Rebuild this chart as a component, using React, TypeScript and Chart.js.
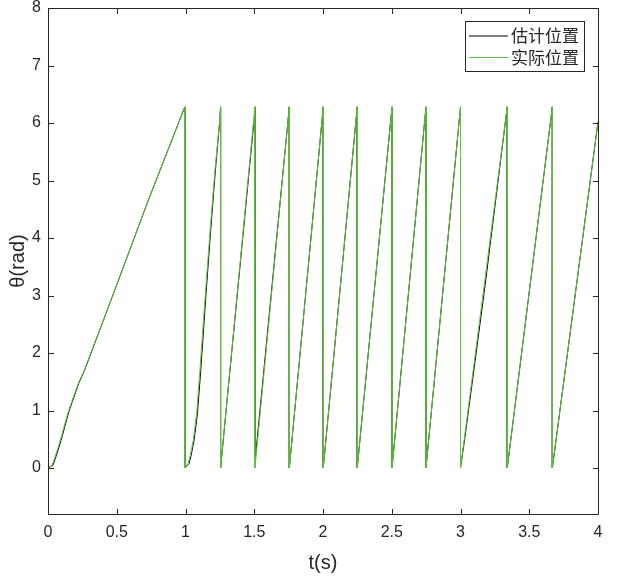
import React, { useEffect, useRef } from 'react';
import { Chart, registerables } from 'chart.js';

Chart.register(...registerables);

// Actual position (green)
const actualT = [
  0, 0.03, 0.051, 0.075, 0.1, 0.124, 0.148, 0.172, 0.196, 0.22, 0.264, 0.463, 0.73, 0.995,
  0.995, 1.02, 1.035, 1.057, 1.081, 1.105, 1.142, 1.178, 1.215, 1.246, 1.255,
  1.255, 1.505, 1.505, 1.755, 1.755, 2.002, 2.002, 2.249, 2.249, 2.502, 2.502, 2.749, 2.749, 3.0,
  3.0, 3.34, 3.34, 3.668, 3.668, 4.0,
];
const actualTheta = [
  0, 0.05, 0.19, 0.37, 0.57, 0.78, 0.98, 1.15, 1.31, 1.47, 1.7, 2.95, 4.66, 6.28,
  0, 0.08, 0.22, 0.49, 0.95, 1.7, 2.95, 4.1, 5.2, 5.97, 6.28,
  0, 6.28, 0, 6.28, 0, 6.28, 0, 6.28, 0, 6.28, 0, 6.28, 0, 6.28,
  0, 6.28, 0, 6.28, 0, 6.02,
];

// Estimated position (black)
const estT = [
  0, 0.036, 0.057, 0.081, 0.105, 0.129, 0.152, 0.176, 0.2, 0.223, 0.266, 0.463, 0.73, 0.995,
  0.995, 1.026, 1.041, 1.063, 1.087, 1.111, 1.147, 1.182, 1.218, 1.247, 1.255,
  1.255, 1.508, 1.508, 1.755, 1.755, 2.002, 2.002, 2.249, 2.249, 2.502, 2.502, 2.749, 2.749, 3.0,
  3.0, 3.03, 3.1, 3.18, 3.34, 3.34, 3.668, 3.668, 4.0,
];
const estTheta = [
  0, 0.05, 0.19, 0.37, 0.57, 0.78, 0.98, 1.15, 1.31, 1.47, 1.7, 2.95, 4.66, 6.28,
  0, 0.08, 0.22, 0.49, 0.95, 1.7, 2.95, 4.1, 5.2, 5.97, 6.28,
  0, 6.28, 0.17, 6.28, 0, 6.28, 0, 6.28, 0, 6.28, 0, 6.28, 0, 6.28,
  0, 0.5, 1.75, 3.2, 6.28, 0, 6.28, 0, 6.02,
];

const seriesLabels = ['估计位置', '实际位置'];
const xTicks = [0, 0.5, 1, 1.5, 2, 2.5, 3, 3.5, 4];
const yTicks = [0, 1, 2, 3, 4, 5, 6, 7, 8];
const xTitle = 't(s)';
const yTitle = 'θ(rad)';

const AXIS = '#262626';
const GREEN = '#5EC13A';
const FONT = '"Liberation Sans", Arial, Helvetica, sans-serif';
const CJK = '"Noto Sans CJK SC", "Noto Sans", sans-serif';

const boxPlugin = {
  id: 'matlabBox',
  afterDraw(chart: any) {
    const { ctx, chartArea } = chart;
    const { left, right, top, bottom } = chartArea;
    const xs = chart.scales.x;
    const ys = chart.scales.y;
    ctx.save();
    ctx.strokeStyle = AXIS;
    ctx.lineWidth = 1;
    const L = Math.round(left) + 0.5;
    const R = Math.round(right) + 0.5;
    const T = Math.round(top) + 0.5;
    const B = Math.round(bottom) + 0.5;
    ctx.beginPath();
    ctx.rect(L, T, R - L, B - T);
    ctx.stroke();
    const tl = 5.5;
    ctx.beginPath();
    xTicks.forEach((v) => {
      const px = Math.round(xs.getPixelForValue(v)) + 0.5;
      ctx.moveTo(px, B);
      ctx.lineTo(px, B - tl);
      ctx.moveTo(px, T);
      ctx.lineTo(px, T + tl);
    });
    yTicks.forEach((v) => {
      const py = Math.round(ys.getPixelForValue(v)) + 0.5;
      ctx.moveTo(L, py);
      ctx.lineTo(L + tl, py);
      ctx.moveTo(R, py);
      ctx.lineTo(R - tl, py);
    });
    ctx.stroke();

    // legend
    const lx = 465.5, ly = 21.5, lw = 119, lh = 50;
    ctx.fillStyle = '#fff';
    ctx.fillRect(lx, ly, lw, lh);
    ctx.strokeStyle = AXIS;
    ctx.strokeRect(lx, ly, lw, lh);
    const ds = chart.data.datasets;
    [0, 1].forEach((i, r) => {
      const y = 36 + r * 21.5;
      ctx.strokeStyle = ds[i].borderColor;
      ctx.lineWidth = 1;
      ctx.beginPath();
      ctx.moveTo(469, y);
      ctx.lineTo(508, y);
      ctx.stroke();
      ctx.fillStyle = AXIS;
      ctx.font = `17px ${CJK}`;
      ctx.textBaseline = 'middle';
      ctx.textAlign = 'left';
      ctx.fillText(ds[i].label, 511, y);
    });
    ctx.restore();
  },
};

export default function App() {
  const ref = useRef<HTMLCanvasElement>(null);
  useEffect(() => {
    document.body.style.margin = '0';
    const canvas = ref.current!;
    const chart = new Chart(canvas, {
      type: 'scatter',
      data: {
        datasets: [
          {
            label: seriesLabels[0],
            data: estT.map((t, i) => ({ x: t, y: estTheta[i] })),
            showLine: true,
            borderColor: '#000000',
            backgroundColor: '#000000',
            borderWidth: 1,
            pointRadius: 0,
            tension: 0,
            order: 1,
          },
          {
            label: seriesLabels[1],
            data: actualT.map((t, i) => ({ x: t, y: actualTheta[i] })),
            showLine: true,
            borderColor: GREEN,
            backgroundColor: GREEN,
            borderWidth: 1,
            pointRadius: 0,
            tension: 0,
            order: 0,
          },
        ],
      },
      options: {
        animation: false,
        responsive: false,
        layout: { padding: { top: 8, right: 37, left: 0, bottom: 0 } },
        plugins: { legend: { display: false }, tooltip: { enabled: false } },
        scales: {
          x: {
            type: 'linear',
            min: 0,
            max: 4,
            afterBuildTicks: (s: any) => {
              s.ticks = xTicks.map((v) => ({ value: v }));
            },
            afterFit: (s: any) => {
              s.height = 64;
              s.paddingLeft = 0;
              s.paddingRight = 0;
            },
            grid: { display: false, drawTicks: false },
            border: { display: false },
            ticks: {
              color: AXIS,
              font: { family: FONT, size: 16 },
              padding: 9,
              maxRotation: 0,
              callback: (v: any) => String(v),
            },
            title: {
              display: true,
              text: xTitle,
              color: AXIS,
              font: { family: FONT, size: 20 },
              padding: { top: 0, bottom: 3 },
            },
          },
          y: {
            type: 'linear',
            min: -0.8,
            max: 8,
            afterBuildTicks: (s: any) => {
              s.ticks = yTicks.map((v) => ({ value: v }));
            },
            afterFit: (s: any) => {
              s.width = 48;
              s.paddingTop = 0;
              s.paddingBottom = 0;
            },
            grid: { display: false, drawTicks: false },
            border: { display: false },
            ticks: {
              color: AXIS,
              font: { family: FONT, size: 16 },
              padding: 7,
              callback: (v: any) => String(v),
            },
            title: {
              display: true,
              text: yTitle,
              color: AXIS,
              font: { family: FONT, size: 20 },
              padding: { top: 6, bottom: 0 },
            },
          },
        },
      },
      plugins: [boxPlugin],
    });
    return () => chart.destroy();
  }, []);
  return (
    <div style={{ width: 635, height: 578 }}>
      <canvas ref={ref} width={635} height={578} style={{ display: 'block' }} />
    </div>
  );
}
